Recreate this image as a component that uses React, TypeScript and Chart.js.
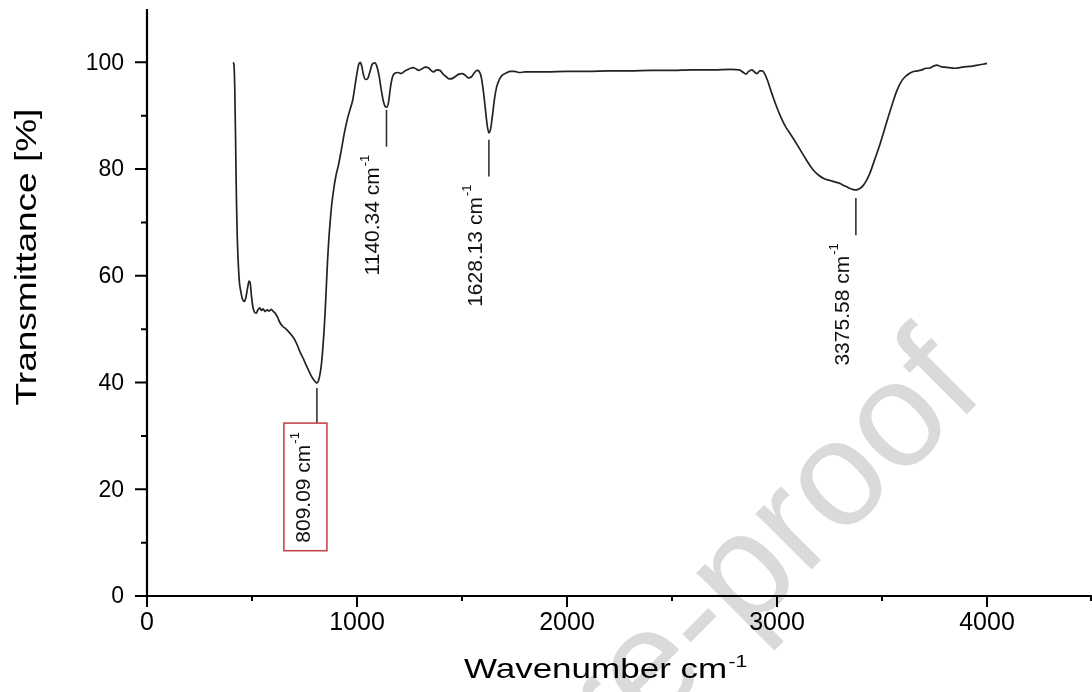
import React, { useEffect, useRef } from "react";
import { Chart, registerables } from "chart.js";

Chart.register(...registerables);

const FONT = "'Liberation Sans', Arial, Helvetica, sans-serif";

// Spectrum (wavenumber in cm-1, transmittance in %)
const wavenumbers = [
  410, 414, 418, 422, 426, 430, 435, 440, 447, 455, 463, 470, 478, 486, 492, 498, 505, 512, 520, 528,
  537, 545, 553, 562, 572, 582, 592, 602, 612, 622, 632, 645, 660, 675, 690, 705, 718, 730, 743, 755,
  768, 780, 792, 802, 809, 816, 823, 830, 836, 842, 848, 854, 860, 866, 873, 880, 890, 900, 912, 925,
  940, 955, 968, 980, 990, 1000, 1008, 1015, 1022, 1030, 1040, 1050, 1060, 1072, 1085, 1095, 1105, 1115, 1125, 1135,
  1142, 1150, 1160, 1170, 1182, 1195, 1210, 1225, 1240, 1255, 1268, 1280, 1295, 1310, 1325, 1340, 1352, 1365, 1380, 1395,
  1410, 1425, 1440, 1455, 1470, 1485, 1500, 1515, 1530, 1545, 1560, 1572, 1582, 1592, 1602, 1612, 1620, 1628, 1636, 1645,
  1655, 1665, 1678, 1692, 1710, 1730, 1750, 1775, 1800, 1900, 2000, 2100, 2200, 2300, 2400, 2500, 2600, 2700, 2780, 2820,
  2840, 2852, 2865, 2880, 2893, 2905, 2918, 2930, 2942, 2955, 2970, 2985, 3000, 3020, 3040, 3060, 3080, 3100, 3120, 3140,
  3160, 3180, 3200, 3225, 3250, 3275, 3300, 3320, 3340, 3360, 3376, 3392, 3410, 3425, 3440, 3455, 3470, 3490, 3510, 3530,
  3550, 3570, 3590, 3610, 3630, 3650, 3670, 3690, 3710, 3725, 3745, 3762, 3780, 3800, 3820, 3848, 3870, 3900, 3930, 3960,
  3985, 4000,
];
const transmittance = [
  100, 99.6, 95, 85, 74, 67, 62, 58.8, 57, 55.6, 55.2, 55.8, 57.5, 59.0, 58.5, 56, 54, 53.2, 53, 53.6,
  54, 53.5, 53.8, 53.3, 53.6, 53.4, 53.7, 53.3, 52.9, 52.2, 51.3, 50.6, 50.1, 49.5, 48.8, 47.9, 46.8, 45.6, 44.6, 43.5,
  42.4, 41.4, 40.6, 40.1, 39.9, 40.3, 41.4, 43.2, 45.8, 49, 53, 58, 63, 67, 70.5, 73.5, 76.5, 78.8, 80.8, 83.5,
  86.8, 89.5, 91.3, 93, 95.5, 98, 99.6, 100, 99.4, 97.8, 96.8, 96.9, 98, 99.6, 99.9, 99.2, 97.5, 95, 92.8, 91.7,
  91.6, 92.5, 95.5, 97.4, 98, 98.1, 97.9, 98.3, 98.6, 98.9, 99, 98.8, 98.5, 98.8, 99.1, 99, 98.5, 98.2, 98.6, 98.5,
  97.8, 97.3, 96.9, 97, 97.4, 97.8, 97.9, 97.6, 97.1, 97.3, 98.1, 98.5, 98.3, 97.2, 94.5, 91, 88.2, 86.8, 87.5, 90,
  93.2, 95.4, 96.8, 97.6, 98, 98.3, 98.3, 98.1, 98.2, 98.2, 98.3, 98.3, 98.4, 98.4, 98.5, 98.5, 98.6, 98.6, 98.7, 98.6,
  98.1, 97.8, 98.3, 98.6, 98.2, 97.9, 98.4, 98.4, 97.8, 96.6, 94.8, 93.1, 91.5, 89.6, 88, 86.8, 85.6, 84.3, 83, 81.7,
  80.5, 79.5, 78.8, 78.2, 77.9, 77.6, 77.3, 76.9, 76.5, 76.2, 76.1, 76.3, 76.9, 77.8, 79, 80.6, 82.3, 84.6, 87.2, 89.8,
  92.3, 94.6, 96.3, 97.3, 97.9, 98.3, 98.4, 98.6, 98.9, 98.9, 99.3, 99.5, 99.2, 99.1, 99, 98.9, 99, 99.2, 99.3, 99.5,
  99.7, 99.8,
];

// Peak annotations
const peakWavenumbers = [809.09, 1140.34, 1628.13, 3375.58];
const peakLabels = ["809.09", "1140.34", "1628.13", "3375.58"];
const peakLineTop = [39.0, 91.1, 85.5, 74.6];
const peakLineBottom = [32.4, 84.2, 78.6, 67.6];
const peakBoxed = [true, false, false, false];

// Axes
const xMajorTicks = [0, 1000, 2000, 3000, 4000];
const xMinorTicks = [500, 1500, 2500, 3500, 4500];
const yMajorTicks = [0, 20, 40, 60, 80, 100];
const yMinorTicks = [10, 30, 50, 70, 90];
const xTitle = "Wavenumber cm";
const yTitle = "Transmittance [%]";
const watermark = "Journal Pre-proof";

const decorPlugin = {
  id: "decor",
  beforeDraw(chart: any) {
    const ctx = chart.ctx;
    ctx.save();
    ctx.fillStyle = "#ffffff";
    ctx.fillRect(0, 0, chart.width, chart.height);
    // watermark
    ctx.translate(987, 394);
    ctx.rotate(-Math.PI / 4);
    ctx.font = `150px ${FONT}`;
    ctx.fillStyle = "#dadada";
    ctx.textAlign = "right";
    ctx.textBaseline = "alphabetic";
    ctx.fillText(watermark, 0, 0);
    ctx.restore();
  },
  afterDraw(chart: any) {
    const ctx = chart.ctx;
    const xs = chart.scales.x;
    const ys = chart.scales.y;
    const area = chart.chartArea;
    ctx.save();
    // axis lines
    ctx.strokeStyle = "#000";
    ctx.lineWidth = 2.2;
    ctx.beginPath();
    ctx.moveTo(area.left, area.top);
    ctx.lineTo(area.left, area.bottom);
    ctx.moveTo(area.left - 1, area.bottom);
    ctx.lineTo(area.right, area.bottom);
    ctx.stroke();
    ctx.lineWidth = 2;
    ctx.beginPath();
    yMajorTicks.forEach((v) => {
      const p = ys.getPixelForValue(v);
      ctx.moveTo(area.left - 12, p);
      ctx.lineTo(area.left, p);
    });
    yMinorTicks.forEach((v) => {
      const p = ys.getPixelForValue(v);
      ctx.moveTo(area.left - 6, p);
      ctx.lineTo(area.left, p);
    });
    xMajorTicks.forEach((v) => {
      const p = xs.getPixelForValue(v);
      ctx.moveTo(p, area.bottom);
      ctx.lineTo(p, area.bottom + 11);
    });
    xMinorTicks.forEach((v) => {
      const p = Math.min(xs.getPixelForValue(v), chart.width - 1);
      ctx.moveTo(p, area.bottom);
      ctx.lineTo(p, area.bottom + 5);
    });
    ctx.stroke();

    // tick labels
    ctx.fillStyle = "#000";
    ctx.font = `23px ${FONT}`;
    ctx.textAlign = "right";
    ctx.textBaseline = "middle";
    yMajorTicks.forEach((v) => {
      ctx.fillText(String(v), area.left - 23, ys.getPixelForValue(v) + 1);
    });
    ctx.font = `25px ${FONT}`;
    ctx.textAlign = "center";
    xMajorTicks.forEach((v) => {
      ctx.fillText(String(v), xs.getPixelForValue(v), area.bottom + 27);
    });

    // x title with superscript
    ctx.save();
    ctx.translate(605, 678);
    ctx.scale(1.25, 1);
    ctx.font = `28px ${FONT}`;
    const w1 = ctx.measureText(xTitle).width;
    ctx.font = `17px ${FONT}`;
    const w2 = ctx.measureText("-1").width;
    const start = -(w1 + w2) / 2;
    ctx.textAlign = "left";
    ctx.textBaseline = "alphabetic";
    ctx.font = `28px ${FONT}`;
    ctx.fillText(xTitle, start, 0);
    ctx.font = `17px ${FONT}`;
    ctx.fillText("-1", start + w1 + 1, -11);
    ctx.restore();

    // y title
    ctx.save();
    ctx.translate(28, 257);
    ctx.rotate(-Math.PI / 2);
    ctx.scale(1, 0.82);
    ctx.font = `37px ${FONT}`;
    ctx.textAlign = "center";
    ctx.textBaseline = "middle";
    ctx.fillText(yTitle, 0, 0);
    ctx.restore();

    // peak annotations
    peakWavenumbers.forEach((wn, i) => {
      const x = xs.getPixelForValue(wn);
      const yTop = ys.getPixelForValue(peakLineTop[i]);
      const yBot = ys.getPixelForValue(peakLineBottom[i]);
      ctx.strokeStyle = "#333";
      ctx.lineWidth = 1.6;
      ctx.beginPath();
      ctx.moveTo(x, yTop);
      ctx.lineTo(x, yBot);
      ctx.stroke();

      const main = `${peakLabels[i]} cm`;
      ctx.font = `21px ${FONT}`;
      const m1 = ctx.measureText(main).width;
      ctx.font = `13px ${FONT}`;
      const m2 = ctx.measureText("-1").width;
      const total = m1 + m2 + 1;
      const textTop = yBot + (peakBoxed[i] ? 9 : 8);
      const textStart = textTop + total;
      ctx.save();
      ctx.translate(x - 13, textStart);
      ctx.rotate(-Math.PI / 2);
      ctx.fillStyle = "#111";
      ctx.textAlign = "left";
      ctx.textBaseline = "middle";
      ctx.font = `21px ${FONT}`;
      ctx.fillText(main, 0, 0);
      ctx.font = `13px ${FONT}`;
      ctx.fillText("-1", m1 + 1, -8);
      ctx.restore();

      if (peakBoxed[i]) {
        ctx.strokeStyle = "#c3474f";
        ctx.lineWidth = 1.6;
        ctx.strokeRect(x - 33, yBot, 43, textStart + 8 - yBot);
      }
    });
    ctx.restore();
  },
};

export default function App() {
  const ref = useRef<HTMLCanvasElement>(null);
  useEffect(() => {
    const canvas = ref.current;
    if (!canvas) return;
    const chart = new Chart(canvas, {
      type: "line",
      data: {
        datasets: [
          {
            label: "FTIR",
            data: wavenumbers.map((x, i) => ({ x, y: transmittance[i] })),
            borderColor: "#222222",
            borderWidth: 1.7,
            pointRadius: 0,
            fill: false,
            cubicInterpolationMode: "monotone",
          },
        ],
      },
      options: {
        responsive: false,
        animation: false,
        events: [],
        layout: { padding: { top: 9, right: 0, left: 0, bottom: 0 } },
        plugins: { legend: { display: false }, tooltip: { enabled: false } },
        scales: {
          x: {
            type: "linear",
            min: 0,
            max: 4500,
            afterFit: (s: any) => {
              s.height = 96;
              s.paddingLeft = 0;
              s.paddingRight = 0;
            },
            grid: { display: false, drawTicks: false },
            border: { display: false },
            ticks: { display: false, stepSize: 500 },
          },
          y: {
            type: "linear",
            min: 0,
            max: 110,
            afterFit: (s: any) => {
              s.width = 147;
              s.paddingTop = 0;
              s.paddingBottom = 0;
            },
            grid: { display: false, drawTicks: false },
            border: { display: false },
            ticks: { display: false, stepSize: 10 },
          },
        },
      },
      plugins: [decorPlugin],
    } as any);
    return () => chart.destroy();
  }, []);
  return (
    <div style={{ position: "fixed", left: 0, top: 0, width: 1092, height: 692, background: "#fff" }}>
      <canvas ref={ref} width={1092} height={692} style={{ display: "block" }} />
    </div>
  );
}
